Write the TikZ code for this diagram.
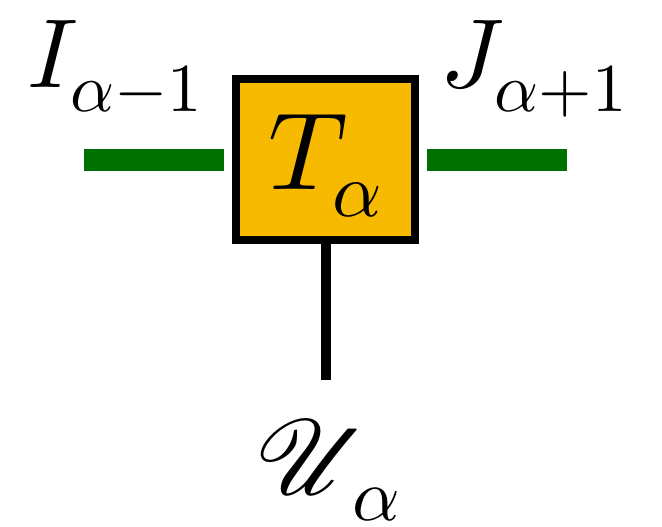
\RequirePackage{fix-cm}
\documentclass[tikz,border=0pt]{standalone}
\usepackage{amsmath,amssymb}
\usepackage{tikz}
\usetikzlibrary{positioning,calc}
\DeclareFontFamily{OML}{cmm}{\skewchar\font127 }
\DeclareFontShape{OML}{cmm}{m}{it}{<-> cmmi10}{}
\DeclareFontFamily{OMS}{cmsy}{\skewchar\font48 }
\DeclareFontShape{OMS}{cmsy}{m}{n}{<-> cmsy10}{}
\DeclareFontFamily{OT1}{cmr}{\hyphenchar\font45 }
\DeclareFontShape{OT1}{cmr}{m}{n}{<-> cmr10}{}
\DeclareFontFamily{U}{rsfsx}{\skewchar\font127 }
\DeclareFontShape{U}{rsfsx}{m}{n}{<-> rsfs10}{}
\DeclareMathAlphabet{\mathscr}{U}{rsfsx}{m}{n}
\definecolor{tensorfill}{RGB}{247,186,0}
\definecolor{bondgreen}{RGB}{0,112,0}
\tikzset{
  tensor/.style={draw=black, fill=tensorfill, line width=4pt, minimum width=89.5pt,
    minimum height=80.5pt, inner sep=0pt, text height=44pt, text depth=14pt,
    font=\fontsize{55}{56}\selectfont},
  bond/.style={draw=bondgreen, line width=11pt},
  phys/.style={draw=black, line width=5pt},
  lbl/.style={anchor=base west, inner sep=0pt, font=\fontsize{49}{50}\selectfont},
}

\begin{document}
\begin{tikzpicture}[x=0.5pt,y=-0.5pt]
  \useasboundingbox (0,0) rectangle (662,526);
  \node[tensor] (T) at (325.5,159.5) {$T^{}_{\alpha}$};
  \coordinate (lend) at (84,160);
  \coordinate (rend) at (567,160);
  \coordinate (dend) at (325.5,380);
  \draw[bond] (lend) -- ([xshift=-4pt]T.west |- lend);
  \draw[bond] ([xshift=4pt]T.east |- rend) -- (rend);
  \draw[phys] (T.south) -- (dend);
  \node[lbl] (Ilbl) at (27,87) {$I^{}_{\alpha-1}$};
  \node[lbl] (Jlbl) at (440,87) {$J^{}_{\alpha+1}$};
  \node[lbl, font=\fontsize{53}{54}\selectfont] (Ulbl) at (255,494) {$\mathscr{U}^{}_{\,\alpha}$};
\end{tikzpicture}
\end{document}
